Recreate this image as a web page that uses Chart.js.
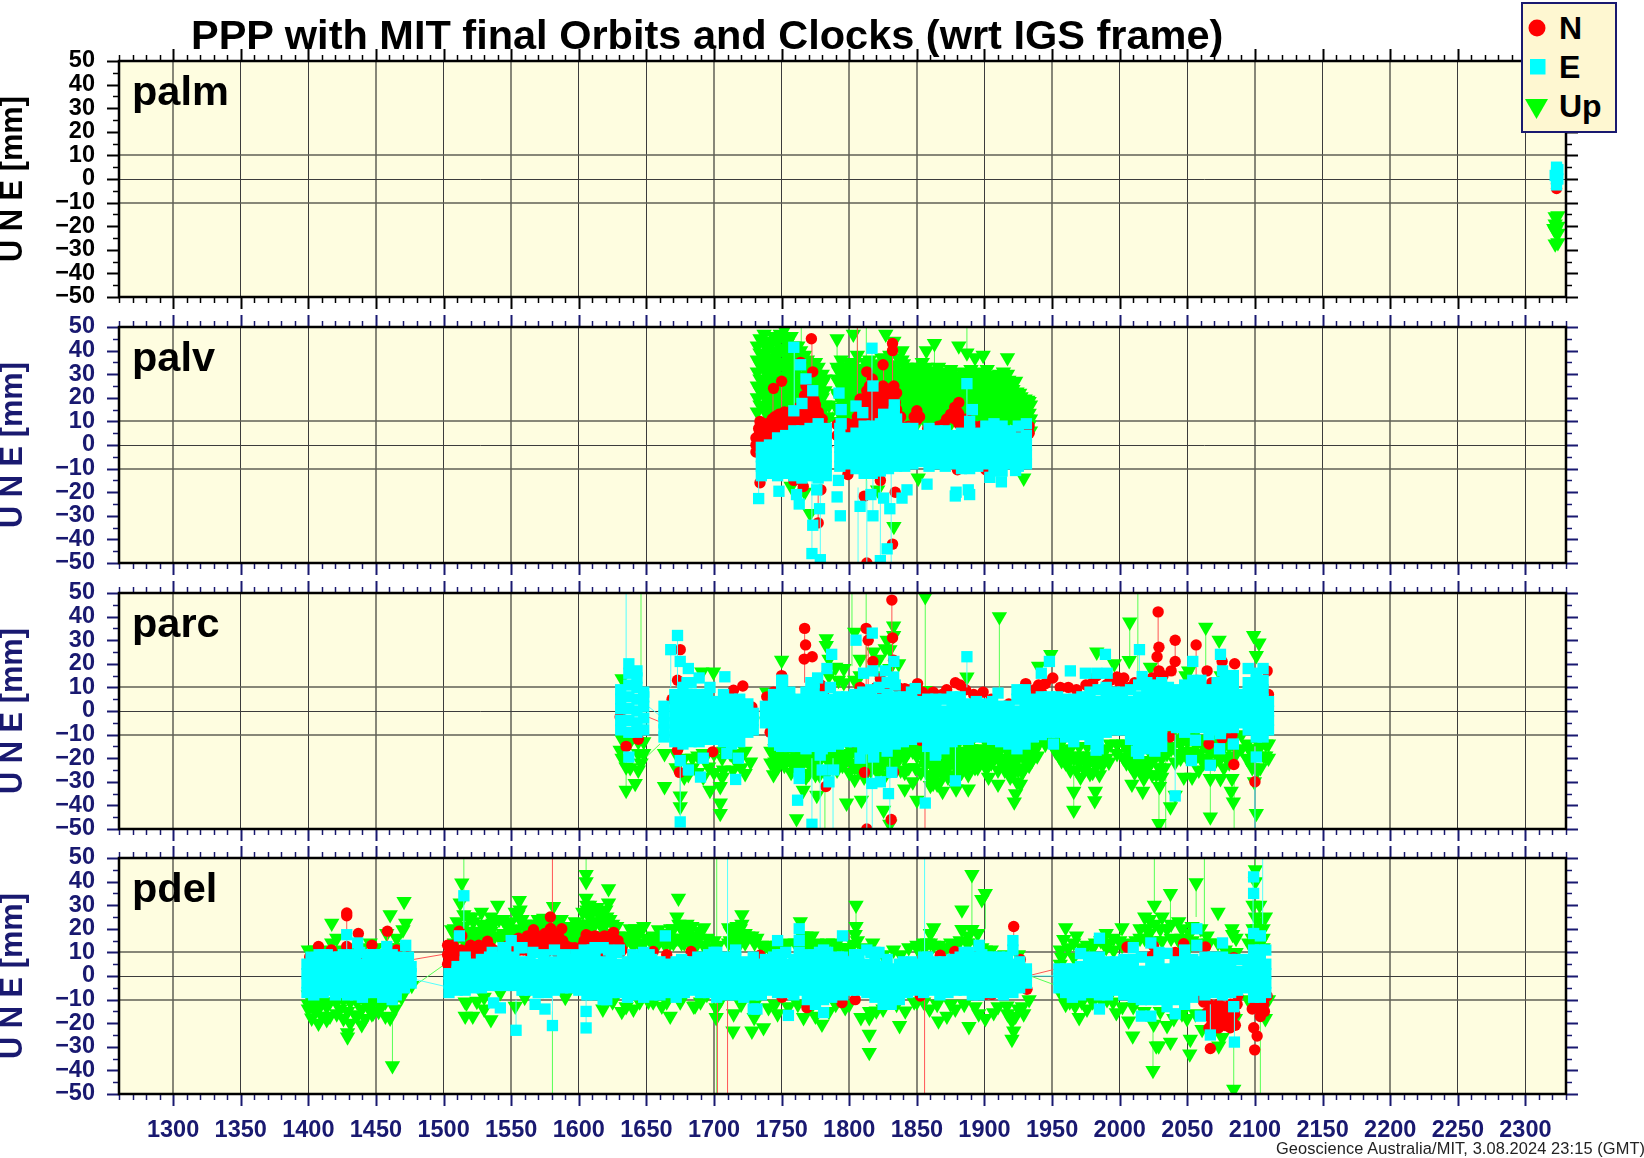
<!DOCTYPE html>
<html><head><meta charset="utf-8"><title>PPP with MIT final Orbits and Clocks</title>
<script src="https://cdn.jsdelivr.net/npm/chart.js@4"></script>
<style>
html,body{margin:0;padding:0;background:#fff;width:1644px;height:1158px;overflow:hidden}
body{position:relative;font-family:"Liberation Sans",Arial,sans-serif}
canvas{position:absolute;left:0}
.t{position:absolute;white-space:nowrap;font-weight:bold;color:#000;z-index:3;line-height:1}
#legend{position:absolute;left:1521px;top:2px;width:92px;height:127px;background:#FEF7D1;border:2px solid #191970;z-index:4}
#legend svg{position:absolute;left:0;top:0}
#legend span{position:absolute;left:36px;font:bold 32px "Liberation Sans",Arial,sans-serif;line-height:1;color:#000}
</style></head><body>
<div class="t" style="left:191px;top:14px;font-size:41.5px" id="ttl">PPP with MIT final Orbits and Clocks (wrt IGS frame)</div>
<div id="legend"><svg width="92" height="127"><circle cx="14" cy="24" r="8.5" fill="#f00"/><rect x="7" y="55" width="15.5" height="15.5" fill="#0ff"/><path d="M2 95 H25 L13.5 115 Z" fill="#0f0"/></svg>
<span style="top:8px">N</span><span style="top:47px">E</span><span style="top:86px">Up</span></div>
<div class="t" style="left:1276px;top:1140px;font-size:16.4px;font-weight:normal;color:#222;letter-spacing:.1px">Geoscience Australia/MIT, 3.08.2024 23:15 (GMT)</div>
<script>
// Tick labels and axis stops
const xTickValues=[1300,1350,1400,1450,1500,1550,1600,1650,1700,1750,1800,1850,1900,1950,2000,2050,2100,2150,2200,2250,2300];
const stationNames=["palm","palv","parc","pdel"];
const blurredGridWeeks=[1300,1450,1550,1700,1800,1850,1950,2100,2200];

// Each column: week, then the values read at that week (mm)
const palmN=[[2323,-4,-2,0,1]];
const palmE=[[2323,5,2.5,0,-2.5],[2322,1.5],[2324,4,0]];
const palmUp=[[2322,-16,-19,-22,-27.5],[2324,-15.5,-20,-23,-27],[2321,-21]];

const palvN=[[1731,3,0,-3],[1734,10,6,-16,5,1],[1737,7,3],[1738,8,3],[1741,8,5],[1742,5],[1744,24,10,7],[1746,9,4],[1747,11,7],[1750,27,12,8,9],[1754,10,5],[1755,13,9],[1758,9],[1759,12,8,-15],[1762,10,6],[1764,35,11],[1765,14],[1766,-17.6,10],[1768,25,11,18,13,9],[1771,20,15,11],[1772,45,13,9],[1773,31,20],[1775,17,11],[1777,14,-33,8],[1778,12,9],[1779,-19,6],[1781,8,4],
[1791,8.6,4],[1799,9,-12.5,5],[1804,9],[1806,8],[1808,19.5,8,13],[1811,-21.7,9],[1813,31,23,-50,12,17,13],[1816,22,17],[1817,28,15],[1820,18,10,22,14],[1823,-15,12],[1824,22,15],[1825,34,25,19,8],[1827,17,12],[1829,14],[1830,21,15],[1832,43,40,-42],[1833,25,23,12],[1834,-20,18,12],[1838,12,8],[1844,8],[1850,14.5,10.7],[1858,7],[1866,8],[1870,9],[1877,12],[1880,-10.5,14],[1884,9],[1892,8],[1901,7,-10.5],[1910,6],[1917,5],[1925,6],[1933,8,5]];
const palvNFill=[[1733,7,4,0],[1736,9,5,2],[1739,9,6,2],[1743,11,7,3],[1745,12,8,4],[1748,13,9,5],[1752,14,10,6],[1756,14,10,6],[1760,14,10,6],[1763,16,12,8],[1767,21,16,12,8],[1770,23,18,13,9],[1774,19,14,10],[1776,11,7],[1780,11,7,3],[1783,7,3],[1806,12,16],[1809,16,11],[1812,20,15],[1815,25,18,13],[1818,22,17,11],[1821,20,15],[1823,24,18],[1826,23,16,11],[1828,20,14],[1831,24,18,12],[1835,22,15],[1836,12],[1848,12],[1852,12],[1872,11],[1875,13],[1878,16,11],[1881,18,13,9],[1887,11],[1897,8],[1903,8],[1930,8]];
const palvE=[[1735,-13,-9,-5,-1],[1741,-12,-8,-4,0],[1747,-13,-9,-5,-1,3],[1753,-12,-8,-4,0,4],[1759,-13,-9,-5,-1,3,6],[1765,-14,-10,-6,-2,2,6],[1771,-13,-9,-5,-1,3,7],[1777,-14,-10,-6,-2,2,6,9],[1783,-13,-9,-5,-1,3,7],
[1793,-9,-5,-1,3,7],[1799,-8,-4,0,3],[1805,-10,-6,-2,2,5],[1811,-12,-8,-4,0,4,8],[1817,-12,-8,-4,0,4,8],[1823,-11,-7,-3,1,5,9],[1829,-10,-6,-2,2,6,10],[1835,-9,-5,-1,3,7,11],[1841,-9,-5,-1,3,7],[1847,-8,-4,0,4,7],[1853,-7,-3,1,4],[1859,-9,-5,-1,3,7],[1865,-8,-4,0,3,6],[1871,-9,-5,-1,3,6],[1877,-8,-4,0,4],[1883,-10,-6,-2,2,5],[1889,-10,-6,-2,2,6,10],[1895,-9,-5,-1,3,5],[1901,-8,-4,0,4,8],[1907,-11,-7,-3,1,5,9],[1913,-11,-7,-3,1,5,8],[1919,-8,-4,0,4,6],[1925,-9,-5,-1,3,8],[1931,-8,-4,0,4,9],
[1733,-22.7],[1748,-19.6],[1759,41.4,14.5],[1761,-21],[1763,-25],[1764,34],[1765,17.6],[1768,28],[1773,23,-34],[1772.4,-46],[1776,-19],[1778,-27],[1778.6,-48.6],[1792.4,22],[1794,15,9],[1792,-15],[1791,-22],[1793.4,-30],[1805,16.5],[1810,13.7],[1816.8,41],[1817.5,25,-30],[1825.4,13,-22.5],[1833.3,17,14],[1808,-26],[1816,-21],[1830,-27],[1839,-22.5],[1842.7,-19],[1828,-44],[1823,-49],[1887,26],[1891,15],[1857.5,-16.6],[1879,-20],[1878.4,-21.6],[1888,-19],[1889,-21],[1904,-13.7],[1912.5,-15.6],[1923,-10.8]];
const palvUp=[[1732,14,20,25,31,36,42],[1737,16,22,27,33,38,44,47],[1742,15,21,26,32,37,43],[1747,14,20,26,32,38,44],[1752,16,22,28,34,40,45,49],[1757,15,21,27,33,39,46,-17.5],[1762,14,20,26,32,38,42],[1767,16,22,28,33,38,-20],[1771,16,21,27,33,-29],[1775,14,20,26,30,35],[1780,14,20,26,30],[1785,12,17],
[1791,10,16,22,28,33,45],[1797,9,15,21,27,33],[1803,10,16,22,28,34,47],[1809,8,14,20,26,32],[1815,12,18,24,30,36],[1821,10,16,22,28,34,-19],[1827,12,18,24,30,35,47],[1833,10,16,22,28,34,44,-34.5],[1839,12,18,24,30,36,40],[1845,10,16,22,28,33],[1851,10,16,22,28,33,-14],[1857,9,15,21,27,33,40],[1863,8,14,20,26,31,43],[1869,9,15,21,27,31],[1875,9,15,21,27,32],[1881,10,16,22,27,42],[1887,11,17,23,29,39],[1893,10,16,22,28,37],[1899,11,17,23,29,38],[1905,9,15,21,27],[1911,11,17,23,30],[1917,10,16,22,30,37],[1923,9,14,19,27],[1929,8,13,18,-14],[1934,6,11,17],
[1734,17,23,28,34,39,45],[1739,13,19,24,30,35,41],[1744,18,24,29,35,40,46],[1749,17,23,29,35,41,47],[1754,13,19,25,31,37,43],[1759,18,24,30,36,42],[1764,17,23,29,35,40],[1769,13,19,25,31,36],[1773,19,24,30,34],[1777,17,23,28,33],[1782,17,23,28],
[1794,13,19,25,31,36],[1800,12,18,24,30,35],[1806,13,19,25,31,38],[1812,11,17,23,29,35],[1818,15,21,27,33],[1824,13,19,25,31,37],[1830,15,21,27,33,38],[1836,13,19,25,31,37],[1842,15,21,27,33],[1848,13,19,25,31],[1854,13,19,25,31,35],[1860,12,18,24,30],[1866,11,17,23,29,33],[1872,12,18,24,30],[1878,12,18,24,29],[1884,13,19,25,31],[1890,14,20,26,32],[1896,13,19,25,31],[1902,14,20,26,32],[1908,12,18,24,29],[1914,14,20,26,31],[1920,13,19,25],[1926,12,17,22],[1932,11,16,19]];
const palvUpFill=[[1792,14.5,20.5,26.5,31.5],[1795,11.5,17.5,23.5,29.5],[1798,13.5,19.5,25.5,31.5],[1801,10.5,16.5,22.5,28.5],[1804,14.5,20.5,26.5,32.5],[1807,11.5,17.5,23.5,29.5],[1810,12.5,18.5,24.5,30.5],[1813,9.5,15.5,21.5,27.5],[1816,16.5,22.5,28.5,34.5],[1819,13.5,19.5,25.5,31.5],[1822,14.5,20.5,26.5,32.5],[1825,11.5,17.5,23.5,29.5],[1828,16.5,22.5,28.5,33.5],[1831,13.5,19.5,25.5,31.5],[1834,14.5,20.5,26.5,32.5],[1837,11.5,17.5,23.5,29.5],[1840,16.5,22.5,28.5,34.5],[1843,13.5,19.5,25.5,31.5],[1846,14.5,20.5,26.5,31.5],[1849,11.5,17.5,23.5,29.5],[1852,14.5,20.5,26.5,31.5],[1855,11.5,17.5,23.5,29.5],[1858,13.5,19.5,25.5,31.5],[1861,10.5,16.5,22.5,28.5],[1864,12.5,18.5,24.5,29.5],[1867,9.5,15.5,21.5,27.5],[1870,13.5,19.5,25.5,29.5],[1873,10.5,16.5,22.5,28.5],[1876,13.5,19.5,25.5,30.5],[1879,10.5,16.5,22.5,28.5],[1882,14.5,20.5,25.5],[1885,11.5,17.5,23.5,28.5],[1888,15.5,21.5,27.5],[1891,12.5,18.5,24.5,30.5],[1894,14.5,20.5,26.5],[1897,11.5,17.5,23.5,29.5],[1900,15.5,21.5,27.5],[1903,12.5,18.5,24.5,29.5],[1906,13.5,19.5,25.5],[1909,10.5,16.5,22.5,28.5],[1912,15.5,21.5,28.5],[1915,12.5,18.5,24.5,29.5],[1918,14.5,20.5,27.5],[1921,11.5,17.5,23.5,25.5],[1924,12.5,17.5,22.5],[1927,10.5,15.5,20.5],[1930,9.5,14.5,19.5],[1933,8.5,13.5,18.5]];
const palvNBars=[[1772.4,30,45],[1743.6,12,24],[1750,12,27],[1806,20,50],[1825.4,25,34],[1832,23,40],[1813,12,31],[1777,-33,-18]];
const palvEBars=[[1759.3,14,41],[1816.8,5,41],[1887,10,26],[1733,-22,-12],[1772.4,-46,-14],[1778.6,-48.6,-14],[1806.5,-50,-18],[1813,-50,-15],[1817.5,-30,-10],[1823,-49,-10],[1831,-50,-12]];
const palvUpBars=[[1764.5,39,50],[1887,40,50],[1812.6,-20,50],[1806,25,50],[1863,33,43],[1791,33,45]];
const palvNLinks=[[1783,2,1788,-1]];
const palvELinks=[];
const palvUpLinks=[[1783,8,1791,18]];

const parcN=[[1630.6,-2.5],[1635,-15],[1644,-12],[1669,5],[1673,13,-16.6],[1675,26],[1674.5,-26],[1699,-17.3],[1714.4,8.8],[1721.3,10.6],[1728,1.7],[1739,-4,6],[1741.5,-9],[1744,8],[1750,15],[1766.7,22],[1767,35],[1767.7,28],[1772.6,23],[1773.6,7.3,10],[1775,9,6],[1778.5,6,9],[1779,11,7],[1782,9],[1782.7,-32],[1802.4,-13],[1808,10],[1811.3,-26],[1812.5,35],[1813,-50],[1814,30],[1817.5,21],[1820,10],[1823,13.7],[1824,8.7],[1826,10],[1831,-46],[1831.5,47],[1832,31],[1832.8,21.5,-26],[1836,10],[1841,9.5],[1845,9],[1850.5,11.6],[1852.5,-12.4],[1854,8],[1858.7,6],[1862,8],[1866,6.6],[1868.6,7],[1872,9],[1878.5,12],[1881,-9],[1882,11],[1886,9],[1892,7],[1899,8],[1905,5],[1918,3],[1930.5,11.6],[1937,9],[1940,11],[1942,8],[1945,11.6],[1950.5,14],[1956,10],[1962,10],[1968,9],[1975,11],[1980,12],[1983,15],[1990,11],[1993,13],[1998,14.4],[2000,12],[2003,14],[2007,10],[2011,12],[2016,12],[2020,11],[2024,14],[2027.6,23],[2028.4,42],[2029,27,17,12],[2032,15],[2038,17],[2037,-11],[2041,30,21],[2056.5,28],[2064.6,17],[2066,-14],[2068,12],[2075.7,21,-11.7],[2078,-7],[2083,-10.3],[2084.4,-22.7],[2085,20],[2100,-30],[2109,17],[2110,7]];
const parcE=[[1631,-8,-4,1,5,9],[1637,-9,-4,1,6,11,16,20,-19.5],[1643,-9,-5,0,5,10,14,17],[1648,-8,-3,2,6,8],[1663,-11,-8,-5,-2,2],
[1671,-13,-9,-5,-1,3,7],[1677,-14,-10,-6,-2,2,6,10],[1683,-13,-9,-5,-1,3,7,12],[1689,-13,-9,-5,-1,3,7,14],[1695,-12,-8,-4,0,4,7],[1701,-12,-8,-4,0,4],[1707,-13,-9,-5,-1,3,7],[1713,-14,-10,-6,-2,2,5],[1719,-13,-9,-5,-1,3,5],[1725,-9,-5,-1,3],[1729,-8,-4,-1],
[1673,32],[1668,26],[1675,21,-21,-47],[1681,18,-25],[1680,12],[1690,-28],[1692,-20],[1697,10],[1708,14.5],[1709.5,-18],[1718,-20],[1716,-29],
[1738,-5,-1,2],[1744,-13,-9,-5,-1,3,7],[1750,-15,-11,-7,-3,1,5,9,13],[1756,-15,-11,-7,-3,1,5,8],[1762,-15,-11,-7,-3,1,5],[1768,-16,-12,-8,-4,0,4,8],[1774,-15,-11,-7,-3,1,5,9,12],[1780,-16,-12,-8,-4,0,4,6],[1786,-15,-11,-7,-3,1,5,10],[1792,-14,-10,-6,-2,2,6],[1798,-13,-9,-5,-1,3,6],[1804,-13,-9,-5,-1,3,7],[1810,-16,-12,-8,-4,0,4,8],[1816,-15,-11,-7,-3,1,5,9],[1822,-15,-11,-7,-3,1,5,10],[1828,-17,-13,-9,-5,-1,3,7,12],[1834,-14,-10,-6,-2,2,6,11],[1840,-13,-9,-5,-1,3,6],[1846,-12,-8,-4,0,4,8],[1852,-11,-7,-3,1,4],[1858,-15,-11,-7,-3,1,5],[1864,-18,-14,-10,-6,-2,2,5],[1870,-16,-12,-8,-4,0,5],[1876,-13,-9,-5,-1,3,6],[1882,-12,-8,-4,0,4,6],[1888,-12,-8,-4,0,3],[1894,-11,-7,-3,1,4],[1900,-11,-7,-3,1,3],[1906,-12,-8,-4,0,4],[1912,-13,-9,-5,-1,2],[1918,-14,-10,-6,-2,2],[1924,-16,-12,-8,-4,0,5,9],[1930,-14,-10,-6,-2,2,6,9],[1936,-11,-7,-3,1,5],[1942,-10,-6,-2,2,6],[1948,-9,-5,-1,3,6],[1954,-9,-5,-1,3,6],[1960,-11,-7,-3,1,5],[1966,-13,-9,-5,-1,3,5],[1972,-10,-6,-2,2,6],[1978,-12,-8,-4,0,4,8],[1984,-16,-12,-8,-4,0,4,9],[1990,-9,-5,-1,3,7,10],[1996,-8,-4,0,4,8],[2002,-8,-4,0,4,8],[2008,-12,-8,-4,0,4,9],[2014,-18,-14,-10,-6,-2,2,6,11],[2020,-16,-12,-8,-4,0,4,8,12],[2026,-17,-13,-9,-5,-1,3,7,11],[2031,-15,-11,-7,-3,1,5,9,12],
[2036,-6,-2,2,6,10],[2042,-7,-3,1,5,9],[2048,-9,-5,-1,3,7,11],[2054,-7,-3,1,5,9,13,21],[2060,-7,-3,1,5,9,13],[2066,-10,-6,-2,2,6,9],[2072,-8,-4,0,4,8,12],[2078,-7,-3,1,5,9,13],[2084,-7,-3,1,5,9,13,15],[2087,-5,-1,3,7],
[2095,-8,-4,0,4,8,12,18],[2101,-11,-7,-3,1,5,9,13,16,-19.5],[2106,-11,-7,-3,1,5,9,13,18],[2110,-8,-4,0,4],
[1750.7,13],[1771.6,12],[1776.6,14],[1787,24],[1783.5,18],[1805,30],[1817,33],[1810.6,16],[1817.5,17],[1826.6,17],[1833,21],[1832.8,14.4],[1848.8,9.5],[1748.5,-14.5],[1763,-26.5,-28.6],[1761.8,-37.8],[1772.4,-48],[1780,-25],[1788.4,-25],[1785,-30],[1778.5,-18.7],[1808,-20],[1816.7,-30.7],[1823,-30],[1829,-35],[1831.5,-26],[1856.2,-39],[1863.6,-18.7],[1818,-19.5],
[1887,23],[1878.5,-29.6],[1910,7.6],[1942,16],[1948,21],[1963.5,17],[1974.6,16],[1983,16],[1990.7,16],[1989.4,24],[2014.6,26],[2016.6,14.6],[1951,-14],[1982.5,-16.6],[2012.4,-17],[2056,-12.4],[2053,-21],[2067,-23],[2041,-36],[2074.5,-9.6,24],[2073.8,-16],[2084,-14],[2076,17]];
const parcUp=[[1632,13.7],[1630.6,-16.6],[1635,-33.6,-23.7],[1641.7,-30.7],[1644,-18],[1646,-22],[1663.4,-32,-18],[1675,-40.6,-36],[1681,-27],[1691,16.5],[1692,-28,-18],[1696,-23.7],[1697,-33.6],[1699.6,16.5],[1704.6,-43.4,-39,-32],[1707,-25,-17],[1712,-18],[1717,-22],[1723,-26.5,-17],[1727,-21.6],
[1739,8],[1744,-27,-18],[1745,-21.6],[1750,21.5,-20],[1755,-20],[1761,-45.6,-22],[1766,-33.6,-20],[1770,-26.5],[1776,-35.7,-22],[1781,-25],[1783,27.8,30.6],[1790,18.6,-22],[1792,13],[1793,-21],[1798,-39,-20],[1804,33.4,13,-29],[1809,-37.8,-20],[1813,-22],[1818,25,-18],[1825.4,-42,-22],[1826.6,26.4],[1828,30],[1830,-25,-48],[1832.8,36,32],[1836.5,20,-20],[1841,-33,-20],[1850,-37.8,-19],[1856.2,48.5,8.7],[1855,-20],[1862,-30.7,-18],
[1860,-31.5,-22,-15],[1865,-26,-19],[1869,-34,-27,-20],[1874,-23,-15],[1879,-33,-27,-20],[1884,-24,-17],[1888,-33,-27,-20],[1887,14.4],[1893,-24,-17],[1897,-19.5],[1903,-28,-20],[1908,-19.5,-15],[1910,-31],[1911,40],[1914,-20],[1920,-23.7,-17],[1922,-38.5],[1923,-35],[1925,-25,-17],[1926.6,-31],[1931,-21,-15],[1936,-18],[1940,19],[1945,-14],[1949,24],[1952.5,-17],[1958.6,-17],[1963.5,-25,-16],[1966,-42,-34,-20],[1971,-28,-19],[1978,-26.5,-19],[1981.5,-38,-21],[1982,-34],[1983,25],[1988,-17],[1992,-21.6],[1996,20],[2002.5,-19.5],[2007,21.4,-18],[2007.4,37.7],[2009,-31],[2014,-22],[2017,-34,-22],[2017.8,-28.6],[2022.7,18.6,-22],[2029,-47.7,-24],[2029.4,-32],[2037.5,-40.6,-15],[2041,-35.7,-21.6],[2047.4,-28,-18],[2051,17],[2053.5,-28,-18],[2058.5,-25,-18],[2063.6,35.5],[2067,-44.9,-28.6,-18],[2073.5,30],[2074.5,-28.6,-20],[2082.4,-34],[2083,-28.6,-19],[2084,-38.5],[2087,-17],[2096.7,-17],[2099,32],[2099.6,-30],[2101,-43.4,23.5],[2103,28.8],[2106.5,-19],
[1742,-17,-22],[1747,-19,-24],[1752,-18,-23],[1757,-21,-26],[1763,-19,-24],[1768,-20,-28],[1773,-19,-25],[1778,-21,-27],[1784,-20,-26],[1788,-19,-24],[1795,-18,-23],[1800,-19,-26],[1806,-19,-24],[1811,-20,-28],[1816,-19,-25],[1821,-20,-26],[1827,-20,-27],[1833,-19,-24],[1838,-18,-25],[1844,-17,-24],[1847,-17,-30],[1853,-16,-26],[1858,-18,-27],[1863,-20,-27],[1867,-22,-30],[1871,-18,-25],[1876,-18,-28],[1881,-17,-24],[1886,-18,-23],[1890,-16,-22],[1895,-16,-24],[1900,-17,-23],[1905,-17,-22],[1912,-16,-22],[1917,-17,-22],[1921,-19,-27],[1928,-19,-26],[1933,-17,-23],[1939,-15,-19],[1955,-15,-19],[1960,-17,-22],[1968,-19,-25],[1974,-20,-25],[1980,-20,-26],[1985,-21,-27],[1990,-16,-20],[1998,-14,-18],[2005,-16,-22],[2011,-20,-26],[2019,-21,-27],[2024,-21,-27],[2031,-20,-28],[2035,-12,-18],[2045,-14,-20],[2050,-13,-20],[2056,-14,-20],[2062,-15,-22],[2070,-14,-22],[2077,-15,-24],[2081,-15,-22],[2090,-10,-16],[2094,-14,-20],[2098,-18,-24],[2104,-15,-24],[2110,-14,-20],
[1672,-18,-24],[1678,-20,-28],[1684,-20,-24],[1688,-19,-26],[1694,-19],[1700,-18,-26],[1706,-20,-28],[1714,-19,-25],[1720,-18,-24],[1632,-12,-20],[1638,-13,-24],[1644,-13,-25],[1648,-13,-18],[1796,12,18],[1808,15,22],[1822,15,22],[1830,18,26],[1785,15,22],[2049,15],[2075,15]];
const parcUpFill=[[1745,-16,-24],[1749,-21],[1754,-16,-20],[1760,-18,-25],[1765,-18,-23],[1770,-22],[1775,-22,-27],[1780,-19],[1786,-18,-23],[1791,-18,-25],[1797,-18,-22],[1802,-17,-22],[1804,-24],[1808,-18,-24],[1813,-18,-25],[1819,-18,-23],[1824,-18,-23],[1830,-21],[1835,-17,-22],[1841,-16,-26],[1849,-15,-24],[1856,-18,-23],[1861,-23,-28],[1865,-22,-31],[1869,-24],[1873,-21,-28],[1878,-16,-23],[1883,-20,-26],[1888,-15,-23],[1892,-19],[1897,-22],[1902,-14,-24],[1907,-14,-20],[1910,-16,-25],[1915,-14,-25],[1919,-20,-28],[1924,-21,-30],[1930,-17,-24],[1935,-15,-21],[1950,-13],[1957,-13,-21],[1963,-21],[1970,-15,-22],[1976,-15,-23],[1982,-16,-23],[1987,-17,-23],[1993,-14],[2003,-14,-20],[2008,-17,-23],[2013,-15,-23],[2016,-22,-26],[2021,-16,-24],[2027,-19,-27],[2033,-14,-24],[2038,-10,-16],[2043,-12,-18],[2048,-11,-17],[2054,-11,-17],[2060,-12,-20],[2065,-13,-20],[2072,-12,-19],[2079,-11,-20],[2084,-12,-20],[2097,-16,-22],[2102,-16,-25],[2108,-14,-19]];
const parcNBars=[[1767,12,35],[1814,10,35],[1831.5,30,47],[1832,15,31],[1856,-50,-30],[1812.5,10,35],[2028.4,15,42],[2041,15,30],[2056.5,15,28],[2084.4,-22,-10],[2100,-30,-15]];
const parcEBars=[[1635,20,50],[1668,10,26],[1673,10,32],[1675,-47,-20],[1772.4,-48,-20],[1778.5,-50,-15],[1788,-50,-20],[1813,-50,-15],[1817,-50,-15],[1830,-50,-20],[1856,-39,-15],[1887,10,23],[1878.5,-30,-10],[2100,-50,-15],[2041,-36,-10],[2014.6,10,26]];
const parcUpBars=[[1646,18,50],[1802,19,50],[1812.5,15,50],[1856.2,10,48.5],[1782,-50,-20],[1911,8,40],[2007.4,20,37],[2013.4,15,50],[2029,-48,-20],[2067,-45,-20],[2084.6,-50,-30],[2063.6,18,35],[1635,-34,-15],[1675,-40,-20],[1966,-42,-20],[2034,-50,-15]];
const parcNLinks=[[1649,-2,1660,-4.6],[1725,0,1736.6,0]];
const parcELinks=[[1649,3,1660,-2]];
const parcUpLinks=[[1649,-20,1660,-14],[1729.7,-8,1736.6,1]];

const pdelN=[[1401,-5.8,8],[1407.5,12.5,9],[1417,11],[1428.4,26.7,25.5,12.5],[1437,18,9],[1447,13],[1458.5,19,9],[1465.4,11],[1472.8,8.3],
[1504,6,3,9],[1505,6,10],[1508,7,10],[1511.5,19,10],[1513.5,17],[1515,9],[1518,7,11],[1521.6,12],[1524,9],[1527,8,11],[1530,11],[1532.5,14.7,9],[1537,11],[1544,9,12],[1548,10,13],[1550,10],[1552,12],[1555.4,16,11],[1559,11],[1561,13],[1564,16,10],[1566.5,19.6],[1569,13],[1571.5,14.7,10],[1574,17],[1576,16,10],[1579,25,20,16],[1579.3,20],[1582,13],[1584,15,10],[1586,14],[1587.4,20],[1590,13],[1591,11],[1597,12,10],[1600,11],[1603,13,9],[1605.4,17.5],[1608,14],[1612,17,11],[1615,14],[1618,14,10],[1620,12],[1622,15.4,10],[1625.7,18.5],[1628,15,11],[1630.6,12.5,10],[1640,9],[1645,-8.3],[1655,10.4],[1665,9],[1683,10.4],
[1696,-3.5],[1734,8.8],[1747.7,-7],[1750.2,-9],[1768.7,-13.4],[1786,5.6],[1794.6,-11.3],[1804.4,-10],[1825.4,4],[1840,-7],[1852.5,-8.5],[1867.3,8.8],[1878,10.4],[1900.6,-7.8],[1905.5,-7.8],[1921.6,21],[1926.5,7],[1931.4,-5.6],
[2005.4,12.3],[2024,8.5],[2025,12.7],[2041,10],[2047.3,13.7],[2057.2,-7.8],[2062,-11],[2063.4,12.3],[2064.6,-15.5],[2066,-17],[2067,-30.7],[2068.3,-19.7,-14],[2070,-13,-17],[2072,-15.5],[2073.7,7],[2075,-15],[2075.2,-19.7],[2078,-21],[2079.4,-18],[2080,-14],[2081.8,-21.9],[2083,-18],[2084.3,7.8],[2085.5,-20.9],[2086.8,-12],[2087.3,-8.5],[2091.7,2],[2096.6,-5],[2098,-14],[2099.1,-21.9],[2099.8,-31.3],[2100.3,-12],[2101.6,-25.4],[2103,-14],[2104,-17.2],[2106.5,-12],[2107,-15],[2109,-8.5]];
const pdelNFill=[[1503,5,9,13],[1507,5,9,13],[1513,11],[1520,9,13],[1526,13],[1535,12],[1541,10],[1546,11],[1553,15,11],[1556,15,11],[1559,15],[1562,17,13],[1565,17,13],[1568,17,13],[1570,17],[1573,15,11],[1575,18,14],[1578,18,13],[1581,18,14],[1583,16,12],[1585,17,12],[1588,15,11],[1594,12],[1602,12],[1604,15,11],[1607,17,12],[1610,16,12],[1613,15,11],[1616,16,12],[1619,17,12],[1623,17,12],[1626,16,12],[1629,15,11],[1632,11],[2066,-12,-22],[2070,-21],[2073,-22,-12],[2077,-13,-17],[2082,-12,-16],[2085,-16]];
const pdelE=[[1399,-7,-3,1,5],[1405,-6,-2,2,6],[1411,-7,-3,1,5,9],[1417,-6,-2,2,6],[1423,-7,-3,1,5,8],[1429,-8,-4,0,4,8],[1435,-8,-4,0,4,8],[1441,-7,-3,1,5],[1447,-7,-3,1,5,9],[1453,-6,-2,2,6],[1459,-7,-3,1,5],[1465,-8,-4,0,4,7],[1471,-5,-1,3,7],[1476,-3,1,4],
[1428.4,17.5],[1436.5,14],[1458,12.5],[1472,13],
[1504,-7,-3,1],[1510,-6,-2,2,4],[1516,-6,-2,2,6,8],[1522,-5,-1,3,5],[1528,-5,-1,3,7],[1534,-4,0,4,8],[1540,-4,0,4,8],[1546,-4,0,4,8,11],[1552,-4,0,4,8],[1558,-6,-2,2,6,12],[1564,-6,-2,2,6],[1570,-7,-3,1,5],[1576,-7,-3,1,5],[1582,-6,-2,2,6,11],[1588,-5,-1,3,7],[1594,-5,-1,3,7],[1600,-6,-2,2,6,8],[1606,-8,-4,0,4,8],[1612,-8,-4,0,4,8,12],[1618,-10,-6,-2,2,6,12],[1624,-7,-3,1,5,8],[1630,-7,-3,1,5,11],[1636,-9,-5,-1,3,6],[1642,-8,-4,0,4,6],[1648,-9,-5,-1,3,7,10],[1654,-8,-4,0,4,7],[1660,-8,-4,0,4,6],[1666,-7,-3,1,5],[1672,-9,-5,-1,3,6],[1678,-7,-3,1,5],[1684,-6,-2,2,6],[1690,-7,-3,1,5,7],[1696,-7,-3,1,5,9],[1702,-9,-5,-1,3,7,10],
[1515,34],[1511.7,17],[1664,17],[1537,-11.4],[1542,-13.5],[1553.6,-23],[1567.7,-12],[1575,-14],[1580.5,-21],[1605.4,-15,-22],[1620.7,-10],
[1710,-8,-4,0,4,8],[1716,-8,-4,0,4,8,11],[1722,-9,-5,-1,3,6],[1729,-14,-8,-4,0,4,8],[1735,-8,-4,0,4,5],[1741,-6,-2,2,5],[1747,-7,-3,1,5,9,15],[1753,-7,-3,1,5,10],[1759,-8,-4,0,4,7],[1763,-6,-2,2,6,10,15,20],[1769,-10,-6,-2,2,6],[1775,-12,-8,-4,0,4,8],[1781,-15.5,-10,-6,-2,2,6,11],[1787,-9,-5,-1,3,7],[1795,-8,-4,0,4,8,17],[1801,-6,-2,2,6],[1807,-6,-2,2,6,9],[1813,-7,-3,1,5,11],[1819,-9,-5,-1,3,7,10],[1825,-12,-8,-4,0,4],[1831,-12,-8,-4,0,3],[1837,-10,-6,-2,2,5],[1843,-7,-3,1,5],[1849,-6,-2,2,5],[1855,-7,-3,1,5,8],[1861,-6,-2,2,4],[1867,-8,-4,0,3],[1873,-7,-3,1,4],[1879,-6,-2,2,5],[1885,-6,-2,2,6,10],[1891,-8,-4,0,4,8],[1896,-8,-4,0,4,8,13],[1902,-7,-3,1,5,8],[1908,-7,-3,1,5,7],[1914,-8,-4,0,4,7],[1921,-7,-3,1,5,11,15],[1926,-5,-1,3,6],[1931,-3,1,3],[1755,-16.7],[1731.7,-14],
[1955,-5,-1,3],[1960,-7,-3,1,3],[1965,-9,-5,-1,3],[1971,-8,-4,0,4,9.5],[1977,-7,-3,1,5,8],[1985,-14,-8,-4,0,4,8,16],[1991,-8,-4,0,4,6],[1997,-6,-2,2,6],[2003,-8,-4,0,4,7],[2010,-9,-5,-1,3,7,12],[2016,-17,-10,-6,-2,2,8],[2023,-17,-10,-6,-2,2,6,14],[2029,-10,-6,-2,2,6,10],[2035,-13,-9,-5,-1,3,9.6],[2041,-16,-10,-6,-2,2,6],[2048,-12,-8,-4,0,4,8,11],[2054,-9,-5,-1,3,7],[2057,-6,-2,2,6,13,20],[2063,-8,-4,0,4,8],[2069,-7,-3,1,5,8],[2076,-8,-4,0,4,8,14],[2082,-7,-3,1,5,7],[2087,-6,-2,2,7],[2059.6,-17],[2067,-25],[2084.3,-13],[2084.8,-28],
[2095,-5,-1,3,7],[2099,-9,-5,-1,3,7,11,18,35,42],[2104,-9,-5,-1,3,7,11,17],[2108,-7,-3,1,5,11]];
const pdelEFill=[[1402,8],[1408,9],[1414,9],[1420,8],[1426,9],[1432,9],[1438,10],[1444,9],[1450,9],[1456,9],[1462,9],[1468,8],[1474,8],[1404,-8],[1420,-8],[1440,-9],[1455,-9],[1462,-10],
[1536,10],[1544,12],[1550,15],[1556,12],[1566,10],[1574,9],[1590,9],[1598,9],[1604,11],[1610,11],[1616,12],[1622,11],[1628,10],[1640,9],[1652,9],[1676,7],[1688,8],[1700,10],
[1738,7],[1744,8],[1750,9],[1770,9],[1778,10],[1784,10],[1792,8],[1804,9],[1816,10],[1822,10],[1828,7],[1840,6],[1846,6],[1858,8],[1864,6],[1870,6],[1876,7],[1882,8],[1888,10],[1898,9],[1905,8],[1911,8],[1917,8]];
const pdelUp=[[1400,11,-12],[1402.5,-17.8],[1404,-12.8],[1407.5,-20,-14],[1413.6,-18.5,-13],[1417.3,22.4,14],[1423.5,-14],[1429,-24,-25.8,-15],[1434.6,-16.4],[1439.5,-20.6,-14],[1445.7,14,-13],[1448,-15.6],[1453,-12.8],[1460.5,26,-17.8],[1462.2,-38],[1464,-14],[1465.4,16],[1470,19.6,12],[1470.8,31.6],[1472,22.4],[1476.5,-4],
[1506,19.6,12],[1512.3,31,18],[1513.5,39.4],[1516,-17,-11],[1517,-11.4,15],[1520.9,25,18],[1521.6,-17],[1524.6,-10.7,15],[1528,27],[1530,18],[1535,-18.5],[1536.4,22.4,16],[1540,30],[1542,-7,16],[1548,22.4,16],[1553,-12.8],[1556,32,17],[1556.6,28,24],[1563,18],[1570,24,17],[1574,24.5,19],[1581.3,29.5,19],[1589,18],[1597.3,23,16],[1605.4,43,40,33,22],[1606,28,17],[1612,22,17],[1613.4,29],[1617.8,-14,20],[1620.7,25,17],[1622,37,31],[1628,21,15],[1631.8,-15],[1635.5,15],[1640.4,-14,13],[1648,21,14],[1651.5,-10.7],[1652.8,15],[1659,19.6,14],[1661.4,-12.8],[1667.6,-17,14],[1672.5,25,16],[1673.7,33],[1678,20,14],[1683.6,21,14],[1685,-12.8],[1692.3,20.5,13],[1694.7,-7.8],[1686,-12.7],[1701.6,-13.4,-17.6,12],
[1710.8,20.5,14],[1714,-23.3],[1714.5,-16],[1719.4,20,14],[1720.6,26,22],[1725,17],[1728,-23.3],[1729.7,-17.6],[1731.7,16],[1736.6,-21.9],[1740.3,-13.4,12],[1747,-16,13],[1755,14],[1763.8,23,13],[1766.2,-17.6],[1772.4,17,13],[1775,-17],[1779.8,-20.4],[1788.4,14],[1797,-13.4,12],[1803,13.5],[1804.4,17.6],[1805,30,21],[1808.6,-17.6],[1814.8,-24.7,-32.4,-17.6],[1817.3,14],[1820,-14.8],[1832.8,11],[1837.2,-21],[1841.4,-14.8],[1844,12],[1850,-11,12],[1855,14],[1859.4,-14],[1862.4,20.5,13],[1866,-19],[1872.2,-17],[1872.3,12],[1878.4,-14],[1883.3,28,19.7],[1887,14],[1888.5,-21.4],[1890.7,43,19.7],[1895.7,-16],[1898,32.4],[1900.6,35,-18,11],[1906.8,-15.5],[1916.6,-12.7],[1920.3,-26.8,-19],[1921.6,-23.3],[1925.2,-14],[1929,-16],
[1956,11,5],[1958.6,15.5],[1960,20.5,-12],[1966,14,8],[1967,-12.7],[1970,-17.6],[1975.8,-14,13],[1982,14],[1990,18,12],[1990.6,-10],[1995.5,16,11],[1997.5,-15.5],[2001.7,20.5,13],[2006.6,-19],[2009.6,-25.4],[2012,15],[2018.5,25,16],[2020,20],[2024.6,-40],[2025.1,-20.4],[2025.6,30],[2026,22,15],[2027,-29.6],[2028.8,-29.6],[2031.3,25,15],[2035,20,-21],[2037.5,35,-28],[2043.6,23,15],[2049.8,-18],[2051.8,-33],[2052.2,-26.8],[2053.5,21,15],[2056.5,39.5],[2060.9,-22.6],[2064.6,17],[2072.7,27,14],[2073.2,-29.6],[2075.7,-26],[2081.8,10],[2083,20],[2083.5,17.6],[2084.3,-48],[2085.5,-18],[2095.4,14],[2098.6,30,20],[2100.3,45,40,25],[2101.5,20],[2103.5,30],[2104,23,14],[2107.7,25,-18],
[1400,-8,-14],[1405,-9,-15],[1410,-11,-17],[1416,-11,-17],[1421,-11,-16],[1426,-10,-18],[1431,-11,-20],[1436,-11,-17],[1442,-11,-18],[1447,-10,-16],[1452,-10,-15],[1457,-11,-17],[1463,-11],[1469,-9],[1405,11],[1412,11],[1421,11,16],[1432,12],[1440,12],[1450,12],[1458,12,18],[1466,12],
[1508,14,20],[1515,15,21,26],[1522,16,23],[1528,17,22],[1533,16,20],[1538,17,23],[1544,18,24],[1550,18,23],[1555,20,26],[1560,17,22],[1566,18,22],[1572,18,22],[1578,17,24],[1584,17,22],[1592,17,21],[1600,17,22],[1603,18,27],[1608,19,25,30],[1615,17,23,27],[1620,18,23,28],[1625,17,22],[1633,16],[1638,15,20],[1644,14,18],[1655,13,17],[1664,13,18],[1670,14,20],[1676,14,20],[1681,15,18],[1687,13,17],[1695,12,16],
[1530,-9,-14],[1560,-9],[1590,-9],[1625,-11],[1635,-13],[1645,-11],[1655,-11],[1665,-11],[1675,-11],[1690,-11],
[1715,18,13],[1723,18,14],[1728,17],[1735,13],[1743,12],[1752,12],[1760,14],[1768,17,13],[1776,14],[1784,14],[1792,12],[1800,12],[1810,12],[1825,9],[1838,9],[1850,13],[1858,14],[1866,13],[1878,13],[1895,13,18],[1905,11],[1915,9],[1925,9],
[1705,-10],[1720,-12],[1730,-12],[1745,-12],[1755,-13],[1762,-12],[1772,-13],[1785,-15],[1790,-12],[1800,-12],[1815,-15],[1825,-14],[1835,-12],[1848,-11],[1855,-11],[1865,-12],[1875,-12],[1885,-12],[1893,-13],[1910,-13],[1917,-16],[1923,-17],[1928,-13],[1933,-10],
[1957,8],[1962,12],[1968,17],[1972,12],[1980,12],[1986,15],[1992,14],[2000,15],[2006,14],[2015,16,20],[2022,18,24],[2030,20],[2038,16,22],[2046,16,20],[2052,13,18],[2060,14,20],[2066,14],[2078,11],[2086,10,16],
[1957,-8],[1963,-11],[1972,-11],[1980,-11],[1987,-11],[1995,-11],[2002,-13],[2010,-13],[2018,-15],[2030,-15],[2040,-18],[2046,-16],[2056,-16],[2095,-10],[2098,12,16],[2102,12,16],[2106,16,20,12],[2110,-10]];
const pdelUpFill=[[1510,16,23],[1518,19,25],[1525,19],[1531,15,21],[1535,19,25],[1541,17,24],[1547,15,21],[1553,19,27],[1558,17,24],[1563,22],[1569,20],[1575,21],[1581,18,24],[1587,18,24],[1594,15,21],[1598,19],[1602,15,22],[1606,22,30],[1610,17,23,28],[1617,16,24],[1623,16,24],[1629,17],[1636,17],[1642,16,20],[1650,16],[1660,16],[1668,16,20],[1674,16,22],[1680,16,22],[1689,16,19],[1700,15],
[1703,13],[1712,15,19],[1717,16,21],[1721,17],[1730,14],[1738,13],[1748,12],[1765,17],[1770,15],[1780,13],[1790,13],[1806,15],[1855,12],[1860,14,18],[1870,12],[1875,14],[1882,15],[1888,14,17],[1898,12]];
const pdelNBars=[[1428.4,12,26],[1437,10,18],[1458.5,10,19],[1580.5,20,50],[1702.5,-50,0],[1710,-50,-3],[1855.7,-50,-9],[1921.6,12,21]];
const pdelEBars=[[1710,0,50],[1855.7,0,50],[1515,20,34],[1580.5,-21,-8],[1553.6,-23,-10],[1605.4,-22,-10],[1428.4,8,17.5],[2105.7,22,50],[2067,-25,-12],[2084.8,-28,-13],[2098.6,18,42]];
const pdelUpBars=[[1462.2,-38,-10],[1580.5,-50,-15],[1605.4,43,50],[1515,30,50],[1702,-50,50],[2025.6,30,50],[2062.6,20,50],[2056.5,25,39],[2024.6,-40,-15],[2104,-50,-10],[2084.3,-48,-28],[2100.3,45,50],[1890.7,20,43],[1900.6,20,35],[1805,21,30],[2037.5,20,35]];
const pdelNLinks=[[1477.7,7,1501,9.3],[1934,0.3,1953,3]];
const pdelELinks=[[1477.7,-1.3,1501,-4.4],[1934,0,1953,0]];
const pdelUpLinks=[[1474,-6,1501,5],[1934,0,1953,-4]];

const panels=[
 {name:stationNames[0],top:61,n:palmN,e:palmE,u:palmUp,nb:[],eb:[],ub:[],nl:[],el:[],ul:[],ink:"#000"},
 {name:stationNames[1],top:327,n:palvN.concat(palvNFill),e:palvE,u:palvUp.concat(palvUpFill),nb:palvNBars,eb:palvEBars,ub:palvUpBars,nl:palvNLinks,el:palvELinks,ul:palvUpLinks,ink:"#191970"},
 {name:stationNames[2],top:592.5,n:parcN,e:parcE,u:parcUp.concat(parcUpFill),nb:parcNBars,eb:parcEBars,ub:parcUpBars,nl:parcNLinks,el:parcELinks,ul:parcUpLinks,ink:"#191970"},
 {name:stationNames[3],top:858,n:pdelN.concat(pdelNFill),e:pdelE.concat(pdelEFill),u:pdelUp.concat(pdelUpFill),nb:pdelNBars,eb:pdelEBars,ub:pdelUpBars,nl:pdelNLinks,el:pdelELinks,ul:pdelUpLinks,ink:"#191970"}
];
const columnsToPoints=c=>c.flatMap(r=>r.slice(1).map(y=>({x:r[0],y})));
const barsToSegments=b=>b.flatMap(r=>[{x:r[0],y:r[1]},{x:r[0],y:r[2]},{x:r[0],y:null}]);
const linksToSegments=l=>l.flatMap(r=>[{x:r[0],y:r[1]},{x:r[2],y:r[3]},{x:r[2],y:null}]);
const seg=(data,color,order)=>({type:"scatter",showLine:true,data,borderColor:color,borderWidth:1,pointRadius:0,spanGaps:false,fill:false,order});
const pts=(data,color,style,r,order,rot)=>({type:"scatter",data,backgroundColor:color,borderWidth:0,pointStyle:style,pointRadius:r,pointRotation:rot||0,order});

const framePlugin={id:"frame",
 beforeDraw(c){const a=c.chartArea,g=c.ctx;g.save();g.fillStyle="#FEFDE0";g.fillRect(a.left,a.top,a.right-a.left,a.bottom-a.top);g.restore();},
 afterDatasetsDraw(c,_,o){const a=c.chartArea,g=c.ctx,x=c.scales.x,y=c.scales.y;g.save();g.strokeStyle=o.ink;
  const line=(x0,y0,x1,y1,w)=>{g.lineWidth=w;g.beginPath();g.moveTo(x0,y0);g.lineTo(x1,y1);g.stroke();};
  for(let v=1260;v<=2330;v+=10){const p=Math.round(x.getPixelForValue(v))+.5,maj=v%50===0,len=maj?12:6,w=maj?2:1.5;
   line(p,a.top,p,a.top-len,w);line(p,a.bottom,p,a.bottom+len,w);}
  for(let v=-50;v<=50;v+=5){const p=Math.round(y.getPixelForValue(v))+.5,maj=v%10===0,len=maj?12:6,w=maj?2:1.5;
   line(a.left,p,a.left-len,p,w);line(a.right,p,a.right+len,p,w);}
  g.strokeStyle="#000";g.lineWidth=2.5;g.strokeRect(a.left,a.top,a.right-a.left,a.bottom-a.top);g.restore();}
};

panels.forEach((P,i)=>{
 const last=i===3,cvs=document.createElement("canvas"),top=P.top-20,h=last?1158-top:276;
 cvs.width=1644;cvs.height=Math.round(h);cvs.style.top=top+"px";document.body.appendChild(cvs);
 const lab=document.createElement("div");lab.className="t";lab.textContent=P.name;
 lab.style.cssText=`left:132px;top:${P.top+9}px;font-size:41.5px`;document.body.appendChild(lab);
 new Chart(cvs,{type:"scatter",plugins:[framePlugin],
  data:{datasets:[
   pts(columnsToPoints(P.e),"#00FFFF","rect",8,1),
   seg(barsToSegments(P.eb).concat(linksToSegments(P.el)),"#55FFFF",2),
   pts(columnsToPoints(P.n),"#FF0000","circle",5.7,3),
   seg(barsToSegments(P.nb).concat(linksToSegments(P.nl)),"#FF5555",4),
   pts(columnsToPoints(P.u),"#00FF00","triangle",8.9,5,180),
   seg(barsToSegments(P.ub).concat(linksToSegments(P.ul)),"#55FF55",6)
  ]},
  options:{responsive:false,animation:false,devicePixelRatio:1,events:[],
   layout:{padding:{left:0,top:20,right:78,bottom:0}},
   plugins:{legend:{display:false},tooltip:{enabled:false},frame:{ink:P.ink}},
   scales:{
    x:{type:"linear",min:1260,max:2330,
     afterBuildTicks:s=>{s.ticks=xTickValues.map(value=>({value}));},
     afterFit:s=>{s.height=last?h-256:20;s.paddingLeft=0;s.paddingRight=0;},
     border:{display:false},
     grid:{drawTicks:false,tickLength:0,
      color:t=>blurredGridWeeks.includes(t.tick.value)?"rgba(95,95,85,.75)":"#3c3c3c",
      lineWidth:t=>blurredGridWeeks.includes(t.tick.value)?2:1},
     ticks:{display:last,autoSkip:false,maxRotation:0,minRotation:0,padding:22,color:"#191970",font:{family:"Liberation Sans",weight:"bold",size:23.5},callback:v=>String(v)}},
    y:{type:"linear",min:-50,max:50,
     afterFit:s=>{s.width=119;s.paddingTop=0;s.paddingBottom=0;},
     border:{display:false},
     title:{display:true,text:"U N E [mm]",color:P.ink,font:{family:"Liberation Sans",weight:"bold",size:30.8},padding:{top:-5,bottom:0}},
     grid:{drawTicks:false,tickLength:0,
      color:t=>t.tick.value===0?"#3c3c3c":(Math.abs(t.tick.value)===10?"rgba(95,95,85,.75)":"rgba(0,0,0,0)"),
      lineWidth:t=>t.tick.value===0?1:2},
     ticks:{stepSize:10,autoSkip:false,padding:24,color:P.ink,font:{family:"Liberation Sans",weight:"bold",size:23.5},callback:v=>String(v).replace("-","\u2212")}}
   }}});
});
</script></body></html>
